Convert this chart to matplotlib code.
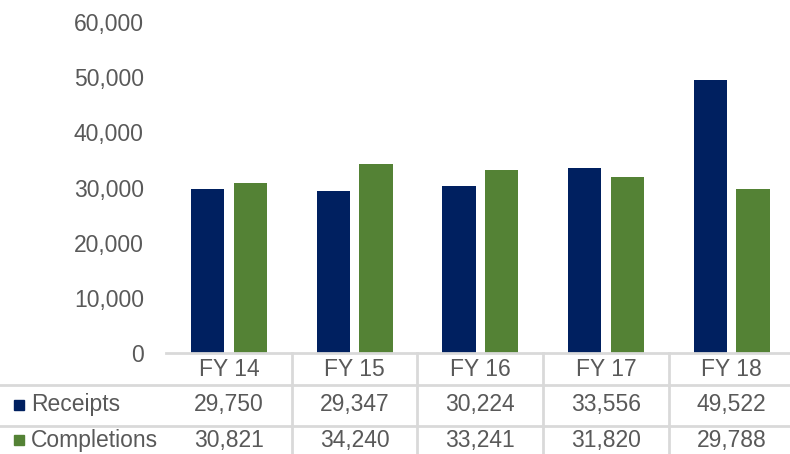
import matplotlib.pyplot as plt
from matplotlib.lines import Line2D
import numpy as np

years = ['FY 14', 'FY 15', 'FY 16', 'FY 17', 'FY 18']
receipts = [29750, 29347, 30224, 33556, 49522]
completions = [30821, 34240, 33241, 31820, 29788]

navy = '#002060'
green = '#548235'
grey_txt = '#595959'
line_c = '#d9d9d9'

plt.rcParams['font.family'] = ['Liberation Sans', 'DejaVu Sans']

W, H = 790, 454
fig = plt.figure(figsize=(W / 100, H / 100), dpi=100)
left, right, top, bottom = 166, 794.5, 22, 353
ax = fig.add_axes([left / W, 1 - bottom / H, (right - left) / W, (bottom - top) / H])

x = np.arange(len(years))
bw = 0.265
ax.bar(x - 0.17, receipts, bw, color=navy)
ax.bar(x + 0.17, completions, bw, color=green)

ax.set_xlim(-0.5, 4.5)
ax.set_ylim(0, 60000)
ax.set_yticks(range(0, 60001, 10000))
ax.set_yticklabels([f'{v:,}' for v in range(0, 60001, 10000)])
ax.tick_params(axis='y', length=0, pad=16, labelsize=16.5, labelcolor=grey_txt)
ax.set_xticks([])
for s in ['top', 'right', 'left']:
    ax.spines[s].set_visible(False)
ax.spines['bottom'].set_color(line_c)
ax.spines['bottom'].set_linewidth(2)

# data table below the axis
ph = bottom - top
def yf(py):
    return (bottom - py) / ph

tr = ax.get_xaxis_transform()
for i, yr in enumerate(years):
    ax.text(i, yf(370), yr, transform=tr, ha='center', va='center',
            fontsize=16.5, color=grey_txt, clip_on=False)
    ax.text(i, yf(405), f'{receipts[i]:,}', transform=tr, ha='center', va='center',
            fontsize=16.5, color=grey_txt, clip_on=False)
    ax.text(i, yf(440), f'{completions[i]:,}', transform=tr, ha='center', va='center',
            fontsize=16.5, color=grey_txt, clip_on=False)

for b in np.arange(0.5, 4.5, 1.0):
    ax.plot([b, b], [0, yf(460)], transform=tr, color=line_c, lw=2, clip_on=False)

for py in [385, 426]:
    fig.add_artist(Line2D([0, 1], [1 - py / H, 1 - py / H], color=line_c, lw=2))

# legend keys
for py, lab, c in [(405, 'Receipts', navy), (440, 'Completions', green)]:
    fig.add_artist(plt.Rectangle((14 / W, 1 - (py + 5) / H), 10 / W, 10 / H,
                                 color=c, transform=fig.transFigure))
    fig.text(31 / W, 1 - py / H, lab, ha='left', va='center', fontsize=16.5, color=grey_txt)

fig.savefig('out.png', dpi=100)
